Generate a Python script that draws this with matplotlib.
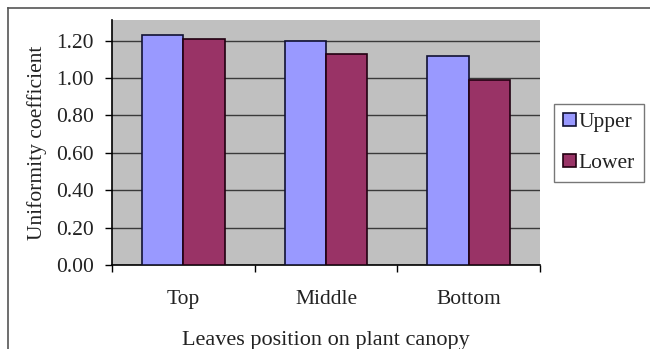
import matplotlib
matplotlib.use("Agg")
import matplotlib.pyplot as plt
import numpy as np
from matplotlib.lines import Line2D

positions = ["Top", "Middle", "Bottom"]
upper = [1.23, 1.20, 1.12]
lower = [1.21, 1.13, 0.99]
series_names = ["Upper", "Lower"]
yticks = [0.00, 0.20, 0.40, 0.60, 0.80, 1.00, 1.20]

plt.rcParams["font.family"] = ["Liberation Serif", "DejaVu Serif"]
FS = 15.5

fig = plt.figure(figsize=(6.5, 3.49), dpi=100)
ax = fig.add_axes([112/650, 1-265/349, (540-112)/650, (265-20)/349])
ax.set_facecolor("#C0C0C0")

x = np.arange(len(positions))
w = 0.29
ax.bar(x - w/2, upper, w, color="#9999FF", edgecolor="#111133", linewidth=1.2,
       label=series_names[0], zorder=3)
ax.bar(x + w/2, lower, w, color="#993366", edgecolor="#220011", linewidth=1.2,
       label=series_names[1], zorder=3)

ax.set_xlim(-0.5, len(positions) - 0.5)
ax.set_ylim(0, 1.31)
ax.set_yticks(yticks)
ax.set_yticklabels([f"{v:.2f}" for v in yticks], fontsize=FS, color="#222222")
ax.yaxis.grid(True, color="#3a3a3a", linewidth=1.0, zorder=0)

ax.set_xticks(x)
ax.set_xticklabels(positions, fontsize=FS, color="#222222")
ax.tick_params(axis="x", length=0, pad=18)
ax.set_xticks(np.arange(len(positions) + 1) - 0.5, minor=True)
ax.tick_params(axis="x", which="minor", length=5, width=1, color="black")
ax.tick_params(axis="y", length=5, width=1, color="black", pad=8)

for s in ["top", "right"]:
    ax.spines[s].set_visible(False)
for s in ["left", "bottom"]:
    ax.spines[s].set_color("black")
    ax.spines[s].set_linewidth(1.2)

ax.set_ylabel("Uniformity coefficient", fontsize=FS, color="#222222")
ax.yaxis.set_label_coords((37-112)/428, 0.5)
ax.set_xlabel("Leaves position on plant canopy", fontsize=FS + 0.5, color="#222222")
ax.xaxis.set_label_coords(0.5, (265-340)/245)
ax.xaxis.label.set_va("center")
ax.yaxis.label.set_va("center")

leg = fig.legend(loc="upper left", bbox_to_anchor=(554/650, 1-104/349),
                 fontsize=FS, frameon=True, fancybox=False, edgecolor="#555555",
                 handlelength=0.6, handleheight=0.6, handletextpad=0.15,
                 borderpad=0.4, labelspacing=1.0, borderaxespad=0)
leg.get_frame().set_linewidth(1.0)
for t in leg.get_texts():
    t.set_color("#222222")

# outer frame lines (top and left)
fig.add_artist(Line2D([8/650, 1], [1-8/349, 1-8/349], transform=fig.transFigure,
                      color="#555555", linewidth=1.2))
fig.add_artist(Line2D([8/650, 8/650], [0, 1-8/349], transform=fig.transFigure,
                      color="#555555", linewidth=1.2))

fig.savefig("out.png", dpi=100, facecolor="white")
